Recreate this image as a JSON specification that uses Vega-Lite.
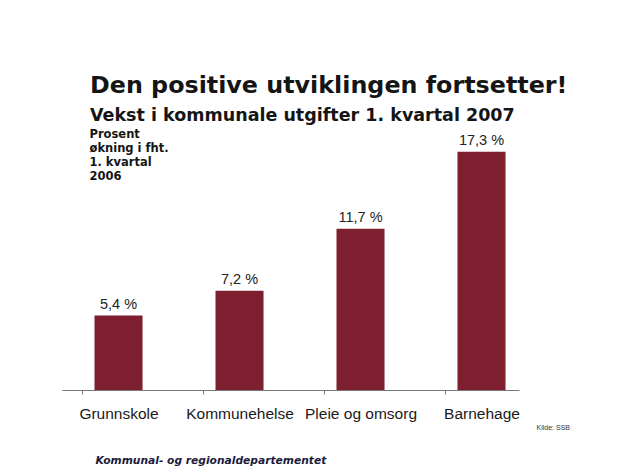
{
  "$schema": "https://vega.github.io/schema/vega-lite/v6.json",
  "autosize": {"type": "none"},
  "width": 457,
  "height": 248,
  "padding": {"left": 62, "top": 142, "right": 103, "bottom": 80},
  "background": "#ffffff",
  "config": {"view": {"stroke": null}},
  "title": {
    "text": "Den positive utviklingen fortsetter!",
    "subtitle": "Vekst i kommunale utgifter 1. kvartal 2007",
    "anchor": "start",
    "frame": "group",
    "dx": 28,
    "offset": 4,
    "font": "DejaVu Sans",
    "fontSize": 23.8,
    "fontWeight": "bold",
    "color": "#151515",
    "subtitleFont": "DejaVu Sans",
    "subtitleFontSize": 17.5,
    "subtitleFontWeight": "bold",
    "subtitleColor": "#151515",
    "subtitlePadding": 9
  },
  "data": {
    "values": [
      {"kategori": "Grunnskole", "vekst": 5.4, "etikett": "5,4 %"},
      {"kategori": "Kommunehelse", "vekst": 7.2, "etikett": "7,2 %"},
      {"kategori": "Pleie og omsorg", "vekst": 11.7, "etikett": "11,7 %"},
      {"kategori": "Barnehage", "vekst": 17.3, "etikett": "17,3 %"}
    ]
  },
  "encoding": {
    "x": {
      "field": "kategori",
      "type": "nominal",
      "sort": null,
      "scale": {"paddingInner": 0.603, "paddingOuter": 0.19, "align": 0.707},
      "axis": {
        "title": "Kommunal- og regionaldepartementet",
        "titleX": 33,
        "titleY": 73.5,
        "titleAlign": "left",
        "titleBaseline": "alphabetic",
        "titleFont": "DejaVu Sans",
        "titleFontSize": 10.7,
        "titleFontWeight": "bold",
        "titleFontStyle": "italic",
        "titleColor": "#1b1b3b",
        "labelAngle": 0,
        "labelFont": "Liberation Sans",
        "labelFontSize": 15.5,
        "labelColor": "#1a1a1a",
        "labelBaseline": "alphabetic",
        "labelPadding": 24.5,
        "labelOffset": 36.5,
        "tickSize": 4,
        "tickOffset": -36.5,
        "tickColor": "#777777",
        "domainColor": "#777777",
        "grid": false
      }
    },
    "y": {
      "field": "vekst",
      "type": "quantitative",
      "scale": {"domain": [0, 18]},
      "axis": {
        "title": ["Prosent", "økning i fht.", "1. kvartal", "2006"],
        "titleAngle": 0,
        "titleX": 27,
        "titleY": -14,
        "titleAlign": "left",
        "titleBaseline": "top",
        "titleFont": "DejaVu Sans",
        "titleFontSize": 11.5,
        "titleFontWeight": "bold",
        "titleLineHeight": 14,
        "titleColor": "#151515",
        "labels": false,
        "ticks": false,
        "domain": false,
        "grid": false
      }
    }
  },
  "layer": [
    {"mark": {"type": "bar", "color": "#7d1f2f"}},
    {
      "mark": {"type": "text", "baseline": "alphabetic", "dy": -7, "font": "Liberation Sans", "fontSize": 14.5, "color": "#222222"},
      "encoding": {"text": {"field": "etikett"}}
    },
    {
      "data": {"values": [{"kategori": "Barnehage", "vekst": 0, "tekst": "Kilde: SSB"}]},
      "mark": {"type": "text", "align": "left", "baseline": "alphabetic", "dx": 55, "dy": 40, "font": "Liberation Sans", "fontSize": 7, "color": "#333333"},
      "encoding": {
        "text": {"field": "tekst"}
      }
    }
  ]
}
